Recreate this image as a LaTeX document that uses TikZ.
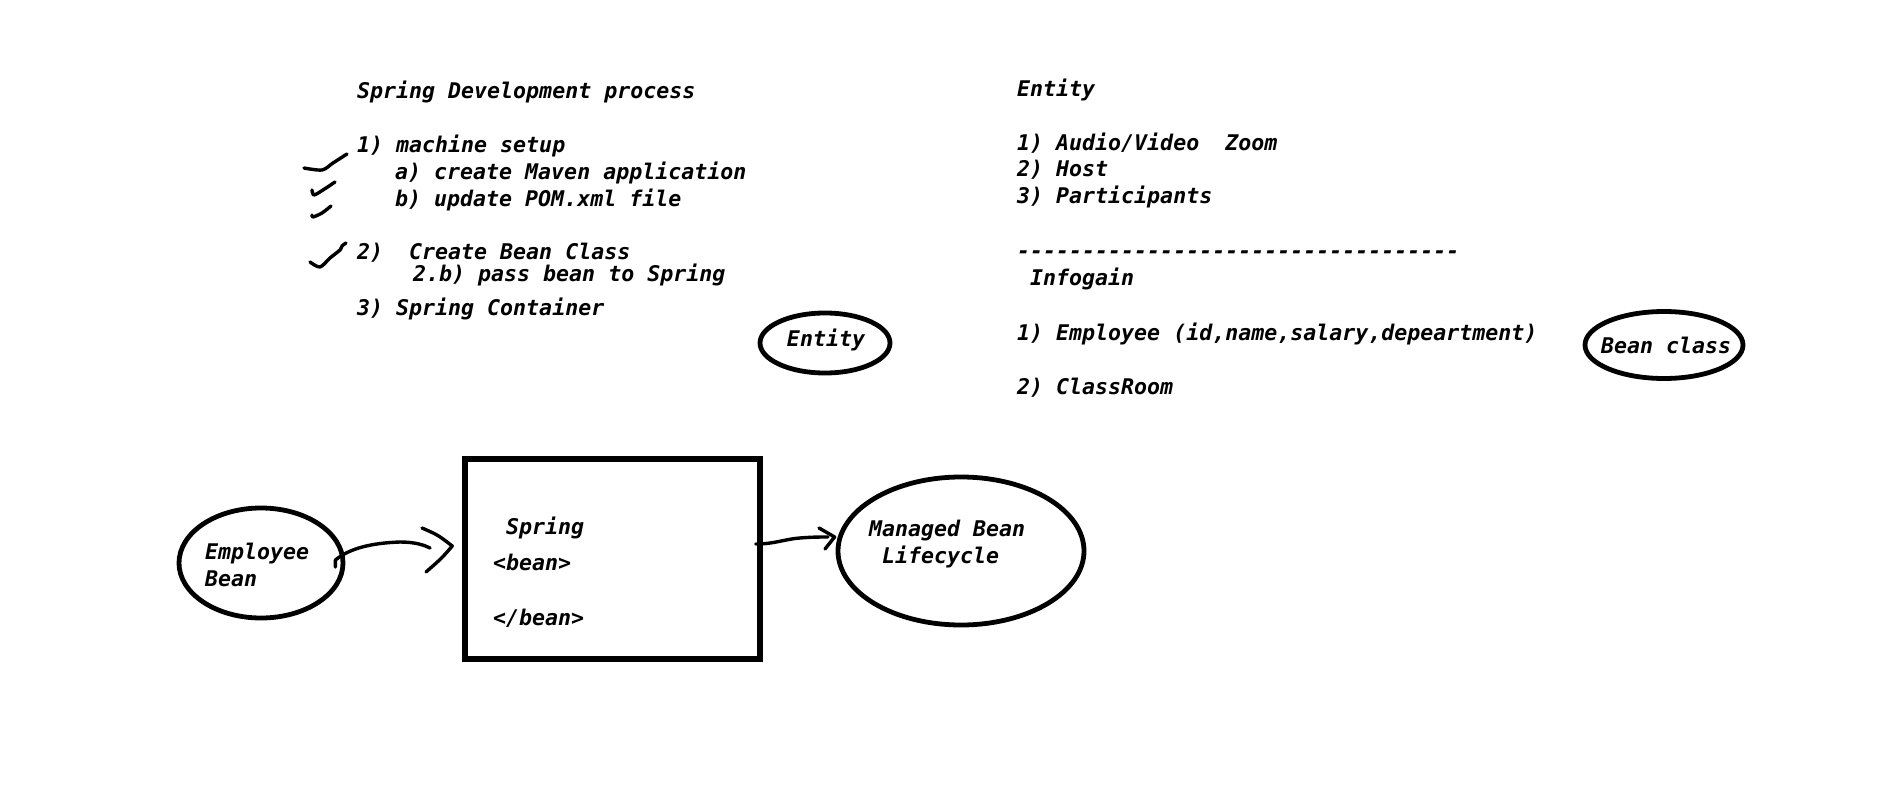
\documentclass[tikz,border=0pt]{standalone}
\usepackage{fontspec}
\newfontfamily\cons{DejaVu Sans Mono}
\usetikzlibrary{shapes.geometric,calc}
\tikzset{
  txt/.style={anchor=base west, inner sep=0pt, font=\cons\bfseries\itshape\fontsize{21.6}{27}\selectfont},
  oval/.style={draw, ellipse, line width=4.8pt, inner sep=0pt},
  box/.style={draw, rectangle, line width=5.5pt, inner sep=0pt},
  hand/.style={line width=3.4pt, line cap=round, line join=round},
}
\begin{document}
\begin{tikzpicture}[x=1pt,y=-1pt]
\useasboundingbox (0,0) rectangle (1900,810);
% left list
\node[txt] (t1) at (357,99) {Spring Development process};
\node[txt] (t2) at (357,153) {1) machine setup};
\node[txt] (t3) at (395,180) {a) create Maven application};
\node[txt] (t4) at (395,207) {b) update POM.xml file};
\node[txt] (t5) at (357,260) {2)\ \ Create Bean Class};
\node[txt] (t6) at (413,282) {2.b) pass bean to Spring};
\node[txt] (t7) at (357,315) {3) Spring Container};
% check marks
\draw[hand] plot[smooth] coordinates {(304,168) (322,170) (333,163) (347,154)};
\draw[hand] plot[smooth] coordinates {(312,190) (314,195) (323,190) (335,182)};
\draw[hand] plot[smooth] coordinates {(312,215) (313,217) (322,213) (331,206)};
\draw[hand] plot[smooth] coordinates {(310,262) (320,267) (330,258) (340,250) (342,246) (346,243)};
% Entity oval
\node[oval, minimum width=130pt, minimum height=60pt] (ent) at (825,343) {};
\node[txt, anchor=base] (entt) at (826,346) {Entity};
% right list
\node[txt] (r1) at (1017,97) {Entity};
\node[txt] (r2) at (1017,151) {1) Audio/Video\ \ Zoom};
\node[txt] (r3) at (1017,177) {2) Host};
\node[txt] (r4) at (1017,204) {3) Participants};
\node[txt] (r5) at (1017,259) {----------------------------------};
\node[txt] (r6) at (1030,286) {Infogain};
\node[txt] (r7) at (1017,340) {1) Employee (id,name,salary,depeartment)};
\node[txt] (r8) at (1017,394) {2) ClassRoom};
% Bean class oval
\node[oval, minimum width=158pt, minimum height=67pt] (bc) at (1664,345) {};
\node[txt, anchor=base] (bct) at (1666,353) {Bean class};
% bottom diagram
\node[oval, minimum width=164pt, minimum height=110pt] (emp) at (261,563) {};
\node[txt] (empt1) at (205,559) {Employee};
\node[txt] (empt2) at (205,586) {Bean};
\node[box, minimum width=295pt, minimum height=200pt] (spr) at (612.5,559) {};
\node[txt] (sp1) at (506,534) {Spring};
\node[txt] (sp2) at (493,570) {<bean>};
\node[txt] (sp3) at (493,625) {</bean>};
\node[oval, minimum width=246pt, minimum height=148pt] (mb) at (961,551) {};
\node[txt] (mb1) at (869,536) {Managed Bean};
\node[txt] (mb2) at (882,563) {Lifecycle};
% connectors
\draw[hand] ($(emp.east)+(-10,4)$) -- ++(0,-7) .. controls (350,548) and (372,543) .. (400,542) .. controls (415,542) and (424,545) .. (430,548);
\draw[hand] (422,528) .. controls (438,535) .. ($(spr.west)+(-10,-13)$) .. controls (442,558) .. (426,572);
\draw[hand] ($(spr.east)+(-7,-15)$) .. controls (775,544) and (785,539) .. (800,538) .. controls (812,537) and (820,537) .. (828,537);
\draw[hand] (819,528) -- ($(mb.west)+(-1,-14)$) -- (825,549);
\end{tikzpicture}
\end{document}
